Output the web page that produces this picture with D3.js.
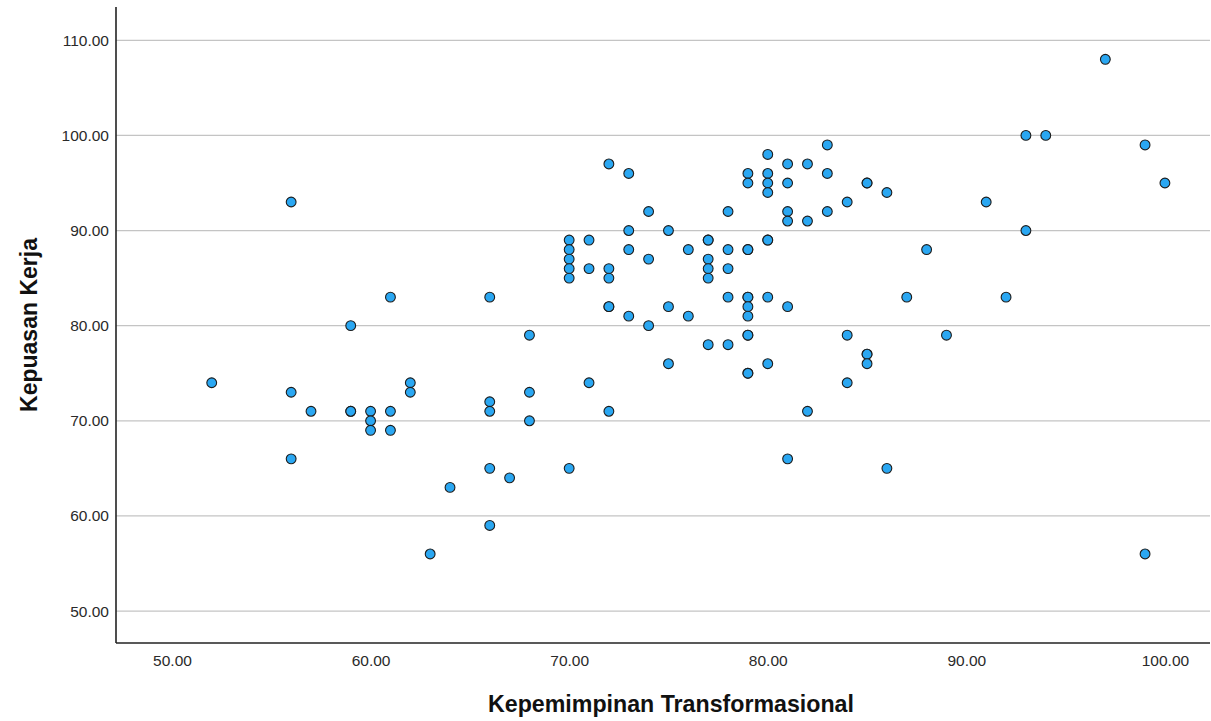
<!DOCTYPE html>
<html>
<head>
<meta charset="utf-8">
<script src="https://cdn.jsdelivr.net/npm/d3@7"></script>
<style>
  html, body { margin: 0; padding: 0; background: #fff; }
  svg { display: block; }
  text { font-family: "Liberation Sans", Arial, sans-serif; }
</style>
</head>
<body>
<svg id="chart" width="1211" height="721"></svg>
<script>
// Data
const xTitle = "Kepemimpinan Transformasional";
const yTitle = "Kepuasan Kerja";
const xTickValues = [50, 60, 70, 80, 90, 100];
const yTickValues = [50, 60, 70, 80, 90, 100, 110];
const xValues = [
  52,
  56, 56, 56,
  57,
  59, 59, 59,
  60, 60, 60,
  61, 61, 61,
  62, 62,
  63,
  64,
  66, 66, 66, 66, 66,
  67,
  68, 68, 68,
  70, 70, 70, 70, 70, 70,
  71, 71, 71,
  72, 72, 72, 72, 72, 72,
  73, 73, 73, 73,
  74, 74, 74,
  75, 75, 75,
  76, 76,
  77, 77, 77, 77, 77, 77,
  78, 78, 78, 78, 78,
  79, 79, 79, 79, 79, 79, 79, 79, 79, 79, 79, 79,
  80, 80, 80, 80, 80, 80, 80, 80,
  81, 81, 81, 81, 81, 81,
  82, 82, 82,
  83, 83, 83,
  84, 84, 84,
  85, 85, 85, 85, 85,
  86, 86,
  87,
  88,
  89,
  91,
  92,
  93, 93,
  94,
  97,
  99, 99,
  100
];
const yValues = [
  74,
  93, 73, 66,
  71,
  80, 71, 71,
  71, 70, 69,
  83, 71, 69,
  74, 73,
  56,
  63,
  83, 72, 71, 65, 59,
  64,
  79, 73, 70,
  89, 88, 87, 86, 85, 65,
  89, 86, 74,
  97, 86, 85, 82, 82, 71,
  96, 90, 88, 81,
  92, 87, 80,
  90, 82, 76,
  88, 81,
  89, 89, 87, 86, 85, 78,
  92, 88, 86, 83, 78,
  96, 95, 88, 88, 83, 83, 82, 81, 79, 79, 75, 75,
  98, 96, 95, 94, 89, 89, 83, 76,
  97, 95, 92, 91, 82, 66,
  97, 91, 71,
  99, 96, 92,
  93, 79, 74,
  95, 95, 77, 77, 76,
  94, 65,
  83,
  88,
  79,
  93,
  83,
  100, 90,
  100,
  108,
  99, 56,
  95
];

(function () {
const points = xValues.map((v, i) => ({ x: v, y: yValues[i] }));

const svg = d3.select("#chart");
const pl = 116, pr = 1210, pt = 7, pb = 643;

const x = d3.scaleLinear().domain([47.18, 102.27]).range([pl, pr]);
const y = d3.scaleLinear().domain([46.64, 113.5]).range([pb, pt]);

// gridlines
svg.append("g")
  .selectAll("line")
  .data(yTickValues)
  .join("line")
  .attr("x1", pl).attr("x2", pr)
  .attr("y1", d => y(d)).attr("y2", d => y(d))
  .attr("stroke", "#c4c4c4")
  .attr("stroke-width", 1.3);

// y axis
const yAxis = d3.axisLeft(y).tickValues(yTickValues).tickSize(0).tickPadding(7)
  .tickFormat(d3.format(".2f"));
const gy = svg.append("g").attr("transform", `translate(${pl},0)`).call(yAxis);
gy.select(".domain").remove();
gy.selectAll("text")
  .attr("fill", "#2a2a2a")
  .style("font-size", "15.5px")
  .style("font-family", "'Liberation Sans', Arial, sans-serif");

// x axis
const xAxis = d3.axisBottom(x).tickValues(xTickValues).tickSize(0).tickPadding(12)
  .tickFormat(d3.format(".2f"));
const gx = svg.append("g").attr("transform", `translate(0,${pb})`).call(xAxis);
gx.select(".domain").remove();
gx.selectAll("text")
  .attr("fill", "#2a2a2a")
  .style("font-size", "15.5px")
  .style("font-family", "'Liberation Sans', Arial, sans-serif");

// axis lines
svg.append("line")
  .attr("x1", pl).attr("x2", pl).attr("y1", pt).attr("y2", pb)
  .attr("stroke", "#222").attr("stroke-width", 1.6);
svg.append("line")
  .attr("x1", pl).attr("x2", pr).attr("y1", pb).attr("y2", pb)
  .attr("stroke", "#222").attr("stroke-width", 1.6);

// points
svg.append("g")
  .selectAll("circle")
  .data(points)
  .join("circle")
  .attr("cx", d => x(d.x))
  .attr("cy", d => y(d.y))
  .attr("r", 4.9)
  .attr("fill", "#2aa7f2")
  .attr("stroke", "#1c1c1c")
  .attr("stroke-width", 1.1);

// titles
svg.append("text")
  .attr("x", 671).attr("y", 712)
  .attr("text-anchor", "middle")
  .attr("fill", "#111")
  .style("font-size", "23.2px")
  .style("font-weight", "bold")
  .text(xTitle);

svg.append("text")
  .attr("transform", "translate(37,325) rotate(-90)")
  .attr("text-anchor", "middle")
  .attr("fill", "#111")
  .style("font-size", "23px")
  .style("font-weight", "bold")
  .text(yTitle);
})();
</script>
</body>
</html>
